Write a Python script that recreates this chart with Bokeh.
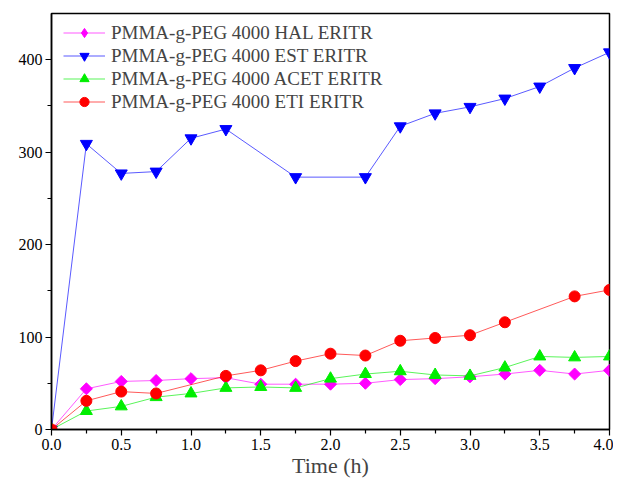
from bokeh.plotting import figure
from bokeh.embed import file_html
from bokeh.resources import INLINE
from bokeh.models import Range1d, FixedTicker, Legend, LegendItem

FONT = "Liberation Serif"

# ---- data ----
x_hal = [0, 0.25, 0.5, 0.75, 1.0, 1.25, 1.5, 1.75, 2.0, 2.25, 2.5, 2.75, 3.0, 3.25, 3.5, 3.75, 4.0]
y_hal = [0, 44, 52, 53, 55, 56, 49, 49, 49, 50, 54, 55, 57, 60, 64, 60, 64]

x_est = [0, 0.25, 0.5, 0.75, 1.0, 1.25, 1.75, 2.25, 2.5, 2.75, 3.0, 3.25, 3.5, 3.75, 4.0]
y_est = [0, 309, 277, 279, 315, 325, 273, 273, 328, 342, 349, 358, 371, 391, 408]

x_acet = [0, 0.25, 0.5, 0.75, 1.0, 1.25, 1.5, 1.75, 2.0, 2.25, 2.5, 2.75, 3.0, 3.25, 3.5, 3.75, 4.0]
y_acet = [0, 20, 25, 35, 39, 45, 46, 45, 55, 60, 63, 59, 58, 67, 79, 78, 79]

x_eti = [0, 0.25, 0.5, 0.75, 1.25, 1.5, 1.75, 2.0, 2.25, 2.5, 2.75, 3.0, 3.25, 3.75, 4.0]
y_eti = [0, 31, 41, 39, 58, 64, 74, 82, 80, 96, 99, 102, 116, 144, 151]

labels = ["PMMA-g-PEG 4000 HAL ERITR", "PMMA-g-PEG 4000 EST ERITR",
          "PMMA-g-PEG 4000 ACET ERITR", "PMMA-g-PEG 4000 ETI ERITR"]

x_major = [0, 0.5, 1.0, 1.5, 2.0, 2.5, 3.0, 3.5, 4.0]
x_minor = [0.25, 0.75, 1.25, 1.75, 2.25, 2.75, 3.25, 3.75]
y_major = [0, 100, 200, 300, 400]
y_minor = [50, 150, 250, 350]

p = figure(width=613, height=480, output_backend="svg", toolbar_location=None,
           x_range=Range1d(0, 4), y_range=Range1d(0, 450),
           min_border_left=51, min_border_right=4, min_border_top=13, min_border_bottom=46)

p.xgrid.visible = False
p.ygrid.visible = False
p.outline_line_color = "black"
p.outline_line_width = 1.5
p.background_fill_color = "white"
p.border_fill_color = "white"

for ax in (p.xaxis[0], p.yaxis[0]):
    ax.axis_line_width = 1.5
    ax.axis_line_color = "black"
    ax.major_tick_line_width = 1.2
    ax.minor_tick_line_width = 1.2
    ax.major_tick_out = 6
    ax.major_tick_in = 0
    ax.minor_tick_out = 4
    ax.minor_tick_in = 0
    ax.major_label_text_font = FONT
    ax.major_label_text_font_size = "16px"
    ax.major_label_text_color = "black"
    ax.axis_label_text_font = FONT
    ax.axis_label_text_font_size = "22px"
    ax.axis_label_text_font_style = "normal"

p.xaxis.ticker = FixedTicker(ticks=x_major, minor_ticks=x_minor)
p.yaxis.ticker = FixedTicker(ticks=y_major, minor_ticks=y_minor)
p.xaxis.major_label_overrides = {v: f"{v:.1f}" for v in x_major}
p.xaxis.axis_label = "Time (h)"
p.xaxis.major_label_standoff = 3
p.xaxis.axis_label_standoff = 0
p.yaxis.major_label_standoff = 3

series = [
    (x_hal, y_hal, "#FF00FF", "square", 8.5, 0.785398),
    (x_est, y_est, "#0000FF", "inverted_triangle", 12, 0),
    (x_acet, y_acet, "#00EE00", "triangle", 12, 0),
    (x_eti, y_eti, "#FF0000", "circle", 11, 0),
]

items = []
for i, ((xs, ys, col, mk, sz, ang), lab) in enumerate(zip(series, labels)):
    ln = p.line(xs, ys, line_color=col, line_width=1, line_alpha=0.65)
    sc = p.scatter(xs, ys, marker=mk, size=sz, angle=ang, fill_color=col, line_color=col)
    if i == 0:
        # legend proxy with a diamond glyph (the origin point, drawn tiny)
        sc = p.scatter(xs[:1], ys[:1], marker="diamond", size=1, fill_color=col, line_color=col)
    items.append(LegendItem(label=lab, renderers=[ln, sc]))

legend = Legend(items=items, location=(12, 316))
legend.border_line_color = None
legend.background_fill_alpha = 0
legend.label_text_font = FONT
legend.label_text_font_size = "19px"
legend.glyph_width = 42
legend.glyph_height = 23
legend.label_height = 23
legend.spacing = 0
legend.margin = 0
legend.padding = 0
legend.label_standoff = 6
p.add_layout(legend)

open("out.html", "w").write(file_html(p, INLINE))
